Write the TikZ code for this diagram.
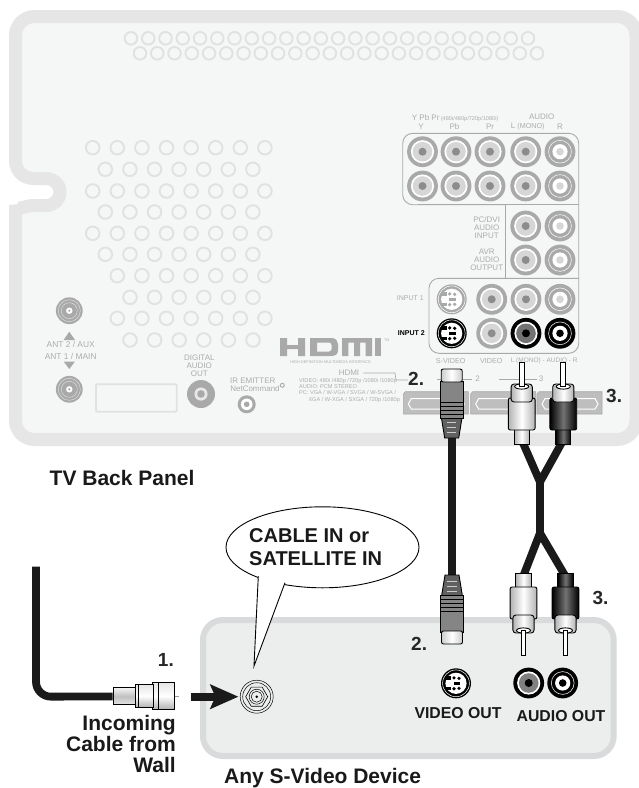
\documentclass[tikz,border=0pt]{standalone}
\usepackage{fontspec}
\setmainfont{Liberation Sans}
\usetikzlibrary{arrows.meta, shapes.geometric, calc}
\definecolor{bandgrey}{HTML}{E6E6E6}
\definecolor{panelfill}{HTML}{F5F7F7}
\definecolor{ventgrey}{HTML}{E0E1E1}
\definecolor{jackgrey}{HTML}{A9A9A9}
\definecolor{jackfill}{HTML}{D6D6D6}
\definecolor{txtgrey}{HTML}{ABABAB}
\definecolor{devfill}{HTML}{ECEEEE}
\definecolor{devband}{HTML}{D9DADB}
\definecolor{cablecol}{HTML}{1A1A1A}
\tikzset{
  vent/.style={circle, draw=ventgrey, line width=1.9pt, minimum size=13.6pt, inner sep=0pt},
  frameln/.style={draw=jackgrey, line width=0.9pt},
  greytxt/.style={text=txtgrey, inner sep=0pt, align=center, font=\fontsize{8}{7.9}\selectfont},
  tinytxt/.style={text=txtgrey, inner sep=0pt, anchor=base west, font=\fontsize{5.6}{6}\selectfont},
  numlab/.style={inner sep=0pt, anchor=base west, font=\fontsize{19}{20}\selectfont\bfseries, text=black!85},
  boldlab/.style={inner sep=0pt, font=\fontsize{21}{21}\selectfont\bfseries, text=black!90},
  plugln/.style={draw=black, line width=0.9pt},
  cable/.style={draw=cablecol, line width=7.8pt},
  hdmiport/.style={fill=jackgrey!75, draw=jackgrey, line width=0.6pt},
  metal/.style={plugln, rectangle, inner sep=0pt, top color=black!10, bottom color=black!30, middle color=white},
}
\newcommand{\lfjack}[5]{%
  \fill[#3] (#1,#2) circle[radius=15.4];
  \fill[white] (#1,#2) circle[radius=11.6];
  \fill[#4] (#1,#2) circle[radius=9.8];
  \fill[#5] (#1,#2) circle[radius=4];
}
\newcommand{\rtjack}[4]{%
  \fill[#3] (#1,#2) circle[radius=15.4];
  \draw[white, line width=0.5pt] (#1,#2) circle[radius=11.4];
  \fill[white] (#1,#2) circle[radius=7.6];
  \fill[#4] (#1,#2) circle[radius=3.8];
}
\newcommand{\svjack}[3]{%
  \fill[#3] (#1,#2) circle[radius=15];
  \draw[white, line width=0.5pt] (#1,#2) circle[radius=13.4];
  \fill[white] (#1,#2) circle[radius=10.6];
  \fill[#3] (#1-10.8,#2-7) -- (#1-5,#2-7) -- (#1-5,#2-3.4) -- (#1-10.8,#2-3.4) -- cycle;
  \fill[#3] (#1-10.8,#2+7) -- (#1-5,#2+7) -- (#1-5,#2+3.4) -- (#1-10.8,#2+3.4) -- cycle;
  \fill[#3] (#1+3,#2-5) circle[radius=1.8] (#1-2,#2-5.4) circle[radius=1.8]
            (#1+3,#2+5) circle[radius=1.8] (#1-2,#2+5.4) circle[radius=1.8];
  \fill[#3] (#1-2.5,#2-1.8) rectangle (#1+4,#2+1.8);
}
\newcommand{\antjack}[2]{%
  \fill[jackgrey] (#1,#2) circle[radius=13.4];
  \draw[white!70!jackgrey, line width=0.4pt] (#1,#2) circle[radius=11] (#1,#2) circle[radius=8];
  \fill[white] (#1,#2) circle[radius=3.2];
  \fill[jackgrey] (#1,#2) circle[radius=1.2];
}
\newcommand{\svplug}{%
  \draw[plugln, fill=black!62] (-10.6,48) -- (-7,70) -- (7,70) -- (10.6,48) -- cycle;
  \foreach \ribY in {54,59,64} {\draw[white!80!black, line width=0.8pt] (-4.6,\ribY) -- (4.6,\ribY);}
  \draw[plugln, fill=black!48] (-11.7,13) rectangle (11.7,50);
  \foreach \ribY in {34,38,42,46} {\draw[black, line width=0.8pt] (-11.7,\ribY) -- (11.7,\ribY);}
  \draw[plugln, left color=black!20, right color=black!20, middle color=white, rounded corners=2pt] (-10.5,1) rectangle (10.5,14);
}
\newcommand{\rcaplug}[2]{%
  \draw[plugln, left color=#1, right color=#1, middle color=#2] (-7.6,66) -- (-7.6,82) -- (7.6,82) -- (7.6,66) -- cycle;
  \draw[plugln, left color=#1, right color=#1, middle color=#2, rounded corners=2pt] (-13.4,36) rectangle (13.4,68);
  \draw[plugln, left color=black!30, right color=black!30, middle color=white, rounded corners=3pt] (-10.6,22) rectangle (10.6,40);
  \draw[plugln, fill=white] (0,24.5) ellipse[x radius=7, y radius=2.6];
  \draw[plugln, fill=white] (-2.4,0) rectangle (2.4,24.5);
}
\begin{document}
\begin{tikzpicture}[x=1pt, y=-1pt]
  \useasboundingbox (0,0) rectangle (639,788);
  \fill[white] (0,0) rectangle (639,788);
  \draw[draw=bandgrey, fill=panelfill, line width=13pt, rounded corners=19pt]
    (15.5,120) -- (15.5,16.5) -- (636,16.5) -- (636,439.5) -- (15.5,439.5) -- (15.5,224) [sharp corners]
    .. controls (15.5,212) and (24,205.5) .. (34,205.5) -- (46.5,205.5)
    .. controls (54,205.5) and (60,199.5) .. (60,192)
    .. controls (60,184.5) and (54,178.5) .. (46.5,178.5) -- (34,178.5)
    .. controls (24,178.5) and (15.5,172) .. (15.5,160) -- cycle;
  \foreach \ventN in {0,...,23} {
    \node[vent, minimum size=12.6pt] (topA\ventN) at (131+\ventN*17.26,38.3) {};
    \node[vent, minimum size=12.6pt] (topB\ventN) at (140+\ventN*17.26,53.3) {};
  }
  \foreach \ventY/\ventX/\ventC in {147.7/92.7/7,169.3/105.3/6,191/92.7/7,212/105.3/6,233.3/92.7/7,254.3/105.3/6,275.7/117.3/6,297.3/130/5,318.3/117.3/6,340/130/5} {
    \foreach \ventN in {0,...,\ventC} {
      \node[vent] at (\ventX+\ventN*24.6,\ventY) {};
    }
  }
  \draw[frameln, rounded corners=10pt] (505.7,204.7) -- (402.7,204.7) -- (402.7,133.3) -- (578.7,133.3) -- (578.7,353.3) -- (429,353.3) -- (429,278.3) -- (578.7,278.3);
  \draw[frameln] (402.7+15,204.7) -- (578.7,204.7) (505.7,204.7) -- (505.7,278.3);
  \node[text=txtgrey, inner sep=0pt, anchor=base west] (ypbpr) at (411.7,120) {\fontsize{8}{8}\selectfont Y Pb Pr\,\fontsize{5.6}{6}\selectfont(480i/480p/720p/1080i)};
  \node[greytxt] (audiohd) at (541.7,117) {AUDIO};
  \node[greytxt] (yhd) at (421,126.5) {Y};
  \node[greytxt] (pbhd) at (454.5,127) {Pb};
  \node[greytxt] (prhd) at (490,126.5) {Pr};
  \node[greytxt] (lmono) at (527.7,126.5) {L {\fontsize{7.2}{7}\selectfont(MONO)}};
  \node[greytxt] (rhd) at (560,126.5) {R};
  \node[greytxt] (pcdvi) at (486.7,227.5) {PC/DVI\\AUDIO\\INPUT};
  \node[greytxt] (avr) at (486.7,259.5) {AVR\\AUDIO\\OUTPUT};
  \foreach \jackX in {422.5,456,490,525.7} {
    \lfjack{\jackX}{151.7}{jackgrey}{jackfill}{black!45}
    \lfjack{\jackX}{186}{jackgrey}{jackfill}{black!45}
  }
  \rtjack{560}{151.7}{jackgrey}{jackfill}
  \rtjack{560}{186}{jackgrey}{jackfill}
  \lfjack{525.7}{226}{jackgrey}{jackfill}{black!45}
  \rtjack{560}{226}{jackgrey}{jackfill}
  \lfjack{525.7}{260}{jackgrey}{jackfill}{black!45}
  \rtjack{560}{260}{jackgrey}{jackfill}
  \node[greytxt, anchor=east] (input1) at (424,298) {\fontsize{7}{7}\selectfont INPUT 1};
  \node[inner sep=0pt, anchor=east, text=black] (input2) at (425,333) {\fontsize{7}{7}\selectfont\bfseries INPUT 2};
  \svjack{451.7}{299.3}{jackgrey}
  \svjack{451.7}{333.3}{black}
  \lfjack{491.7}{299.3}{jackgrey}{jackfill}{black!45}
  \lfjack{491.7}{333.3}{jackgrey}{jackfill}{black!45}
  \lfjack{526}{299.3}{jackgrey}{jackfill}{black!45}
  \rtjack{560}{299.3}{jackgrey}{jackfill}
  \lfjack{526}{333.3}{black}{black!55}{black}
  \rtjack{560}{333.3}{black}{black}
  \node[greytxt, font=\fontsize{7.2}{7}\selectfont] (svlab) at (450.7,361) {S-VIDEO};
  \node[greytxt, font=\fontsize{7.2}{7}\selectfont] (vidlab) at (491.3,361) {VIDEO};
  \node[greytxt, font=\fontsize{6.5}{7}\selectfont] (audlab) at (544.2,361) {L (MONO) - AUDIO - R};
  \foreach \portX/\portN in {403.3/1,470.7/2,537/3} {
    \draw[hdmiport] (\portX+2,391.7) -- (\portX+65,391.7) -- (\portX+65,414) -- (\portX,414) -- (\portX,394) -- cycle;
    \draw[white, line width=1pt] (\portX+5,404) -- (\portX+8,398.5) -- (\portX+58,398.5) -- (\portX+61,404) -- (\portX+58,409) -- (\portX+8,409) -- cycle;
  }
  \node[greytxt] (portnum2) at (477.7,379) {2};
  \node[greytxt] (portnum3) at (541,379) {3};
  \draw[jackgrey, line width=0.6pt] (437,379) -- (471.7,379) (499,379) -- (536.7,379);
  % left side of the panel
  \antjack{69.3}{310.7}
  \antjack{69.3}{389.3}
  \fill[jackgrey] (69.3,331.7) -- (75,340) -- (63.6,340) -- cycle;
  \fill[jackgrey] (69.3,369) -- (75,361.5) -- (63.6,361.5) -- cycle;
  \node[greytxt, font=\fontsize{8.4}{8}\selectfont] (ant2) at (70.7,344.3) {ANT 2 / AUX};
  \node[greytxt, font=\fontsize{8.4}{8}\selectfont] (ant1) at (70.7,356.7) {ANT 1 / MAIN};
  \draw[ventgrey, line width=1.8pt, rounded corners=1pt] (96,384.3) rectangle (176.7,411.7);
  \node[greytxt] (digital) at (199.3,366) {DIGITAL\\AUDIO\\OUT};
  \fill[jackgrey] (201,394) circle[radius=14];
  \fill[jackfill!60] (201,394) circle[radius=6.6];
  \fill[jackgrey] (201,394) circle[radius=3.8];
  \node[greytxt] (iremit) at (252.7,381) {IR EMITTER};
  \node[greytxt] (netcmd) at (255,388.6) {NetCommand};
  \draw[jackgrey, line width=0.9pt] (282.3,385.3) circle[radius=2];
  \fill[jackgrey] (246.7,404.3) circle[radius=9];
  \fill[white] (246.7,404.3) circle[radius=5.8];
  \fill[jackgrey] (246.7,404.3) circle[radius=2.8];
  % HDMI logo
  \fill[jackgrey] (280,338) rectangle (287,356) (298,338) rectangle (305,356) (280,345) rectangle (305,349);
  \fill[jackgrey, even odd rule] (310,338) -- (331,338) .. controls (336,338) and (338,341) .. (338,344) -- (338,350) .. controls (338,354) and (336,356) .. (331,356) -- (310,356) -- cycle
    (317,342.5) -- (317,351.5) -- (329,351.5) .. controls (331,351.5) and (331.5,350) .. (331.5,349) -- (331.5,345) .. controls (331.5,344) and (331,342.5) .. (329,342.5) -- cycle;
  \fill[jackgrey] (342,338) -- (372,338) -- (372,356) -- (365.6,356) -- (365.6,342.5) -- (360,342.5) -- (360,356) -- (354,356) -- (354,342.5) -- (348.4,342.5) -- (348.4,356) -- (342,356) -- cycle;
  \fill[jackgrey] (375,338) rectangle (381,356);
  \node[text=txtgrey, inner sep=0pt] (hdmitm) at (386.7,340) {\fontsize{3.6}{4}\selectfont TM};
  \node[text=txtgrey, inner sep=0pt] (hdmisub) at (330.5,362) {\fontsize{3.9}{4}\selectfont HIGH DEFINITION MULTIMEDIA INTERFACE};
  \node[greytxt] (hdmihd) at (349,373) {HDMI};
  \node[tinytxt] (hdmiA) at (299,382) {VIDEO: 480i /480p /720p /1080i /1080p};
  \node[tinytxt] (hdmiB) at (299,388.4) {AUDIO: PCM STEREO};
  \node[tinytxt] (hdmiC) at (299,394.8) {PC: VGA / W-VGA / SVGA / W-SVGA /};
  \node[tinytxt] (hdmiD) at (308.3,401.2) {XGA / W-XGA / SXGA / 720p /1080p};
  \node[numlab] (num2top) at (408,385) {2.};
  \node[numlab] (num3top) at (606,402.7) {3.};
  \draw[jackgrey, line width=0.7pt] (hdmihd.east) ++(4,0) -- (395,373) -- (396,380) -- (num2top.west |- 0,380);
  \node[boldlab, anchor=base west] (tvlab) at (49.5,485.7) {TV Back Panel};
  % device box
  \draw[draw=devband, fill=devfill, line width=6pt, rounded corners=20pt] (203,620) rectangle (613.7,756);
  \node[boldlab, anchor=base west] (anylab) at (224,783) {Any S-Video Device};
  \node[boldlab, anchor=base, font=\fontsize{15.8}{16}\selectfont\bfseries] (vidout) at (458,718) {VIDEO OUT};
  \node[boldlab, anchor=base, font=\fontsize{15.8}{16}\selectfont\bfseries] (audout) at (561,721.7) {AUDIO OUT};
  \svjack{456}{683.3}{black}
  \lfjack{528.7}{683}{black}{black!50}{black}
  \rtjack{562.7}{683}{black}{black}
  % coax cable and jack
  \coordinate (wallend) at (36,566.7);
  \coordinate (cablecorner) at (36,696.7);
  \node[metal, minimum width=22pt, minimum height=26.6pt] (coaxnut) at (163.8,696) {};
  \node[metal, minimum width=18pt, minimum height=23pt] (coaxmid) at (144,696) {};
  \node[plugln, rectangle, inner sep=0pt, top color=black!5, bottom color=black!10, middle color=black!25, minimum width=22pt, minimum height=17pt] (coaxsleeve) at (124,696.4) {};
  \draw[cable, rounded corners=15pt] (wallend) -- (cablecorner) -- (coaxsleeve.west);
  \draw[black!40, line width=0.7pt] (coaxnut.east) -- ++(3.4,0);
  \draw[black, line width=0.5pt] (coaxnut.north west) ++(6,0) -- ++(0,26.6) (coaxmid.north west) ++(4,0) -- ++(0,23);
  \node[circle, draw=black, line width=0.5pt, fill=devfill, minimum size=33pt, inner sep=0pt] (coaxjack) at (256.7,696.7) {};
  \node[circle, draw=black, line width=0.5pt, minimum size=28pt, inner sep=0pt] (coaxring) at (coaxjack) {};
  \node[regular polygon, regular polygon sides=6, draw=black, line width=0.6pt, minimum size=22pt, inner sep=0pt] (coaxhex) at (coaxjack) {};
  \node[circle, draw=black, line width=0.5pt, minimum size=15pt, inner sep=0pt] (coaxbore) at (coaxjack) {};
  \node[circle, draw=black, line width=0.5pt, minimum size=11pt, inner sep=0pt] (coaxbore2) at (coaxjack) {};
  \fill[black] (coaxjack) circle[radius=1.4];
  \coordinate (arrowstart) at (191,696.7);
  \draw[-{Stealth[length=28pt, width=24pt, inset=5pt]}, draw=cablecol, fill=cablecol, line width=7.6pt, shorten >=1.5pt] (arrowstart) -- (coaxjack.west);
  \node[numlab, anchor=base east] (num1) at (174,666) {1.};
  \node[boldlab, align=right, anchor=north east] (inclab) at (176,715) {Incoming\\Cable from\\Wall};
  % callout
  \node[ellipse, draw=black, line width=0.9pt, fill=white, minimum width=193pt, minimum height=81pt, inner sep=0pt] (callout) at (322.5,547.3) {};
  \coordinate (callouttip) at (254,666);
  \fill[white] (258.3,575) -- (callouttip) -- (285,581.7) -- cycle;
  \draw[black, line width=0.9pt] (258.3,576) -- (callouttip) -- (285,582.7);
  \node[inner sep=0pt, anchor=base west, font=\fontsize{20}{22}\selectfont\bfseries, text=black!90] (callouta) at (249,542.7) {CABLE IN or};
  \node[inner sep=0pt, anchor=base west, font=\fontsize{20}{22}\selectfont\bfseries, text=black!90] (calloutb) at (249,565) {SATELLITE IN};
  % cables and plugs
  \coordinate (svtop) at (452,425);
  \coordinate (svbot) at (452,590);
  \draw[cable] (svtop) -- (svbot);
  \coordinate (rcaA) at (521.7,440);
  \coordinate (rcaB) at (563.3,440);
  \coordinate (rcaC) at (523.3,576);
  \coordinate (rcaD) at (565.3,576);
  \coordinate (joinA) at (540,482);
  \coordinate (joinB) at (540,533);
  \draw[cable] (rcaA) -- (joinA) -- (rcaB);
  \draw[cable] (rcaC) -- (joinB) -- (rcaD);
  \draw[cable] (joinA) -- (joinB);
  \begin{scope}[shift={(451.7,368)}]
    \svplug
  \end{scope}
  \begin{scope}[shift={(452,645)}, yscale=-1]
    \svplug
  \end{scope}
  \begin{scope}[shift={(521.7,362)}]
    \rcaplug{black!30}{white}
  \end{scope}
  \begin{scope}[shift={(563.3,362)}]
    \rcaplug{black}{black!55}
  \end{scope}
  \begin{scope}[shift={(523.5,655)}, yscale=-1]
    \rcaplug{black!30}{white}
  \end{scope}
  \begin{scope}[shift={(565.5,655)}, yscale=-1]
    \rcaplug{black}{black!55}
  \end{scope}
  \node[numlab] (num2dev) at (411,650) {2.};
  \node[numlab] (num3dev) at (592.3,604) {3.};
\end{tikzpicture}
\end{document}
